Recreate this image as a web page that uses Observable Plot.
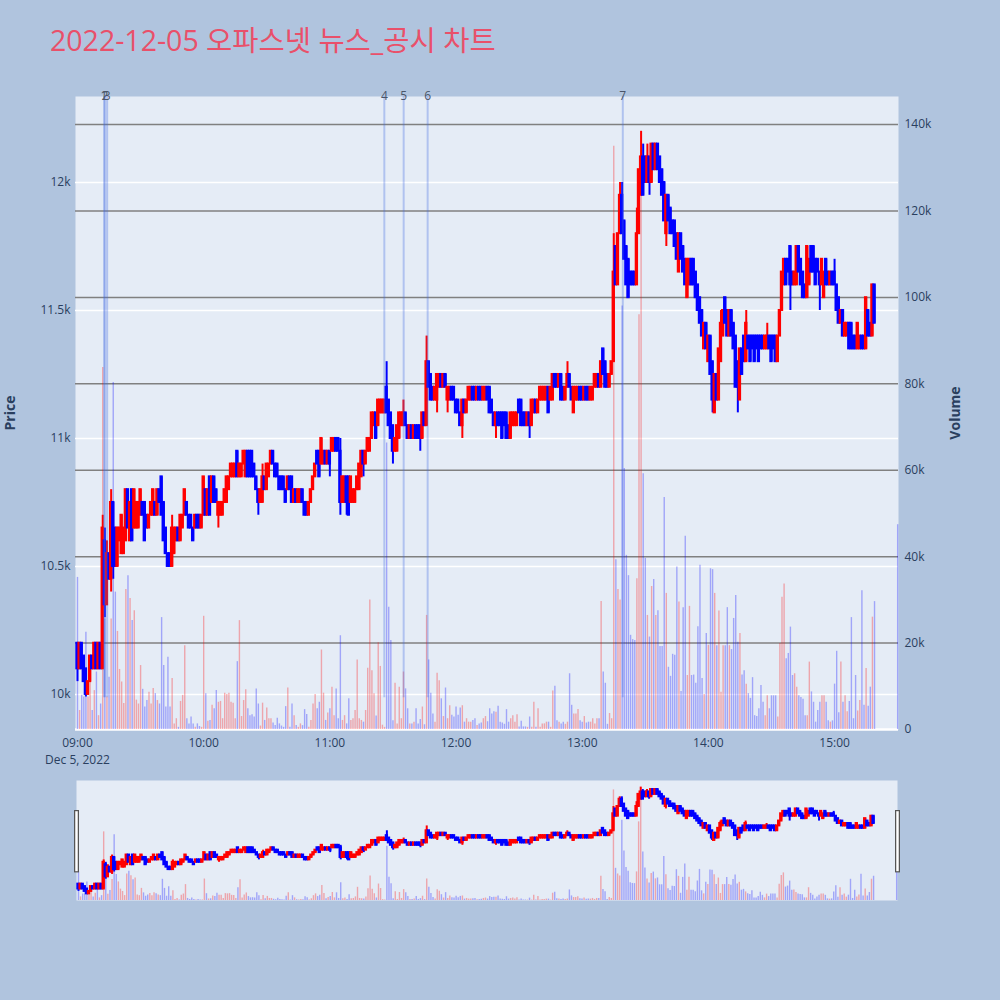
<!DOCTYPE html>
<html>
<head>
<meta charset="utf-8">
<script src="https://cdn.jsdelivr.net/npm/d3@7"></script>
<script src="https://cdn.jsdelivr.net/npm/@observablehq/plot@0.6"></script>
<style>
  html, body { margin: 0; padding: 0; background: #B0C4DE; }
  #wrap { position: relative; width: 1000px; height: 1000px; background: #B0C4DE; overflow: hidden; }
  #title { position: absolute; left: 0; top: 0; }
  #main { position: absolute; left: 0; top: 0; }
  #mini { position: absolute; left: 0; top: 780px; }
  svg { overflow: visible; }
</style>
</head>
<body>
<div id="wrap">
  <svg id="title" width="1000" height="70">
    <text x="50" y="51" font-family="'Open Sans','Noto Sans CJK KR',sans-serif" font-size="28.5" fill="#E9506A">2022-12-05 오파스넷 뉴스_공시 차트</text>
  </svg>
  <div id="main"></div>
  <div id="mini"></div>
</div>
<script>
// ---------- DATA (minute candles from 09:00, index = minutes after 09:00) ----------
const opens = [
10200,10100,10200,10150,10100,10000,10050,10150,10100,10200,
10100,10200,10100,10600,10350,10550,10450,10750,10650,10500,
10600,10550,10550,10600,10800,10600,10800,10650,10650,10650,
10700,10750,10750,10700,10650,10700,10700,10750,10700,10800,
10850,10750,10650,10550,10550,10500,10550,10600,10650,10600,
10650,10700,10750,10700,10700,10650,10650,10700,10700,10650,
10700,10800,10700,10850,10750,10850,10800,10700,10700,10700,
10750,10750,10800,10850,10850,10850,10950,10850,10850,10900,
10850,10950,10950,10950,10900,10850,10800,10750,10750,10850,
10800,10850,10900,10950,10900,10900,10850,10850,10850,10800,
10800,10850,10850,10750,10800,10750,10750,10800,10750,10750,
10700,10750,10800,10850,10950,10950,10900,10900,10950,10900,
10950,10950,10950,11000,11000,10950,10750,10750,10850,10850,
10750,10750,10750,10800,10800,10850,10950,10900,10950,10950,
11000,11050,11100,11050,11100,11100,11100,11200,11150,11100,
11050,10950,10950,11000,11050,11050,11100,11050,11000,11050,
11000,11050,11050,11050,11000,11100,11050,11300,11250,11200,
11150,11150,11200,11250,11200,11250,11150,11150,11200,11200,
11150,11150,11100,11050,11150,11100,11150,11150,11200,11200,
11150,11200,11200,11150,11150,11200,11200,11150,11100,11050,
11100,11100,11100,11100,11100,11050,11000,11050,11050,11050,
11150,11150,11100,11100,11050,11100,11050,11100,11150,11100,
11150,11150,11150,11150,11200,11150,11150,11250,11250,11200,
11250,11200,11150,11200,11250,11200,11100,11150,11150,11200,
11200,11150,11200,11200,11150,11150,11200,11200,11250,11200,
11350,11300,11250,11200,11250,11300,11750,11600,11800,11950,
11850,11750,11700,11650,11650,11650,11600,11800,11950,12100,
12100,12000,12100,12000,12150,12050,12150,12100,12050,12000,
11800,11950,11900,11850,11850,11800,11650,11800,11750,11700,
11550,11600,11700,11700,11650,11600,11550,11500,11350,11450,
11300,11400,11300,11100,11250,11150,11300,11400,11550,11500,
11400,11500,11450,11400,11300,11150,11350,11400,11300,11400,
11400,11400,11400,11400,11400,11400,11400,11350,11350,11400,
11400,11400,11400,11300,11400,11500,11600,11700,11700,11750,
11650,11600,11600,11750,11700,11650,11600,11550,11600,11750,
11750,11700,11700,11650,11600,11550,11700,11650,11600,11650,
11650,11600,11550,11450,11500,11400,11400,11450,11450,11400,
11400,11350,11350,11400,11400,11350,11500,11450,11400,11600
];
const closes = [
10100,10200,10100,10050,10000,10050,10150,10100,10200,10100,
10200,10100,10650,10350,10550,10450,10750,10500,10500,10650,
10650,10700,10650,10800,10650,10750,10600,10800,10750,10750,
10800,10700,10600,10650,10700,10750,10800,10700,10800,10750,
10700,10600,10550,10500,10500,10650,10650,10650,10600,10700,
10700,10800,10700,10650,10650,10600,10700,10650,10650,10700,
10850,10700,10800,10700,10850,10750,10750,10750,10750,10750,
10800,10850,10850,10900,10900,10900,10850,10900,10900,10950,
10950,10850,10850,10850,10850,10800,10750,10800,10850,10800,
10900,10900,10950,10900,10850,10850,10800,10800,10800,10750,
10850,10800,10750,10800,10750,10800,10800,10750,10700,10700,
10750,10800,10850,10900,10900,10850,11000,10950,10900,10950,
10900,11000,11000,10950,10950,10750,10850,10850,10750,10700,
10850,10800,10800,10850,10900,10950,10900,10950,11000,11000,
11100,11100,11000,11150,11150,11150,11150,11100,11050,11000,
10950,11000,11050,11100,11100,11100,11050,11000,11050,11000,
11050,11000,11000,11000,11100,11050,11300,11200,11150,11150,
11200,11250,11250,11200,11250,11200,11200,11200,11150,11150,
11100,11100,11050,11150,11100,11150,11200,11200,11150,11150,
11200,11150,11150,11200,11200,11150,11100,11100,11050,11100,
11050,11050,11000,11050,11000,11000,11100,11100,11100,11100,
11100,11050,11050,11050,11100,11050,11150,11150,11100,11150,
11200,11200,11200,11200,11100,11200,11250,11200,11200,11250,
11150,11150,11200,11250,11200,11150,11200,11200,11200,11150,
11150,11200,11150,11150,11200,11200,11250,11250,11200,11300,
11250,11200,11200,11250,11300,11650,11600,11800,11950,11800,
11700,11600,11550,11600,11600,11600,11800,12050,12100,11950,
12000,12100,12000,12150,12050,12150,12050,12000,11950,11850,
11950,11850,11800,11800,11750,11700,11800,11700,11650,11600,
11700,11700,11600,11600,11550,11500,11450,11400,11450,11350,
11400,11250,11150,11250,11150,11350,11450,11500,11450,11400,
11500,11400,11350,11200,11200,11350,11250,11300,11450,11350,
11300,11350,11300,11350,11300,11350,11350,11400,11400,11350,
11300,11350,11300,11400,11500,11650,11700,11600,11650,11600,
11600,11650,11750,11650,11600,11550,11550,11750,11700,11650,
11650,11600,11650,11600,11700,11650,11600,11600,11650,11600,
11600,11500,11450,11500,11400,11450,11450,11350,11350,11350,
11350,11450,11400,11350,11350,11550,11400,11400,11600,11450
];
// wick extremes beyond the candle body: [minute, price]
const highWicks = [[12,10700],[13,10650],[14,10600],[16,10800],[45,10700],[88,10900],[125,11000],[147,11300],[155,11150],[166,11400],[233,11300],[255,11800],[258,12000],[259,12000],[266,11900],[268,12200],[269,12150],[271,12150],[306,11500],[318,11500],[328,11450],[360,11700]];
const lowWicks = [[0,10050],[4,9990],[13,10300],[16,10400],[17,10450],[67,10650],[86,10700],[120,10850],[125,10700],[128,10700],[136,10850],[150,10900],[163,10950],[171,11100],[176,11100],[183,11000],[199,11000],[215,11000],[272,11950],[280,11750],[302,11100],[314,11100],[339,11500],[353,11500]];
// volume, thousands of shares
const volumesK = [
35.2,4.4,7.9,7.5,22.5,7.5,16.7,4.4,9,13.3,
3.2,5.9,83.8,25.6,7.5,12.1,25.6,80.3,31.8,22.7,
13.9,11,6,32.4,35.6,30.3,25.2,27.5,6.8,5.9,
14.8,9.3,5.2,6.7,8.6,5.9,9.5,8.3,6.7,5.9,
25.9,14.8,5.2,16.7,5.2,11.8,1.3,2.5,0.5,6.5,
7.9,19.4,2.5,1.3,2.9,1.3,0.5,1.3,0.7,0.5,
26.2,8.3,1.9,2.1,5.6,4.8,9,6.3,6.5,2.5,
8.4,8.1,8.4,6.3,6.1,2.5,15.7,25.2,3,6.7,
9.2,4.8,3.2,3.4,2.9,9.4,5.9,0.8,6.1,2.1,
5,2.5,2.5,1.5,0.9,2.6,1.3,0.8,0.5,5.3,
9.6,0.5,5.9,3.2,0.9,0.5,1.3,0.9,4.6,3.5,
0.5,2.1,5.9,8.1,4.8,6.3,18.4,8.4,2.1,3.8,
4.8,9.8,3.2,9.4,2.5,21.7,2.1,3.2,1.3,7.1,
2.1,2.5,4.4,16.1,2.5,2.1,1.7,4.4,14.2,30,
13.6,8.3,3.1,20.1,14.6,1,0.5,66.3,28.3,20.6,
2,10.7,1.3,9.8,2.5,13.3,9.4,4.8,1.3,1.3,
1.7,4.8,1.3,2.3,5.2,1.1,26.4,16.1,8.4,3.6,
1.7,13,11.3,7.1,3,9.6,2.5,5.5,3.3,2.9,
5.2,3.3,5,5.5,1.7,2.5,1.7,1.7,2.1,2.5,
0.9,1.3,1.5,2.5,3,1.8,4.8,3.6,4.1,4,
5.4,1.7,1.5,1.2,4.6,1.7,2.5,3.2,1.7,3.4,
0.6,1.9,0.6,0.6,0.5,2.9,0.5,6.3,0.5,4.8,
0.5,1.3,1.3,1.7,1.7,0.5,8.9,10,2,1.7,
1.3,1.7,1.2,1.7,12.9,5.6,3.6,3.6,4.6,2,
1.7,3,1.5,1.7,1.7,2.5,1.3,2.5,2.5,29.6,
13.3,10.7,1.2,3.7,2.5,135,39.3,32.4,30,98,
60.4,40.3,35.6,21.8,20.8,20.6,34.9,96,138,59.2,
39.6,26.4,21.4,33.1,34.7,26.4,27.5,19.2,19.2,53.7,
31.5,14.4,12.3,17.4,17.2,37.6,29.5,8.8,28.2,44.7,
12.5,28.5,12.5,12.6,10.7,23.8,38,11.8,8.1,22.2,
19.5,37.2,37,31.5,19.4,27.4,8.6,19.4,19.4,28.2,
19.4,18.5,25.7,31,20.2,22.2,12.6,13.6,10.5,8.3,
7.2,12,3.2,3,4.8,10.2,6.3,3.2,7.8,4.8,
7.8,7.8,7.8,2.9,19.9,30.6,33.7,16.4,17.6,23.7,
12.5,12.9,9.8,7.8,7.4,7,3.2,3.2,15.6,8.7,
6.3,1.7,4.4,6.3,7.8,7.8,6.3,2,1.7,2,
10.5,18.1,3.9,15.6,6.3,7.8,4.1,6.5,25.9,2.5,
12.5,4.3,6.7,32.1,5.6,14.1,5.4,9.8,26,29.6
];
// closing auction at 15:30
const closingMinute = 390;
const closingPrice = 11500;
const closingVolumeK = 47.4;

// news / disclosure markers (minutes after 09:00)
const newsLabels = ["1","2","3","4","5","6","7"];
const newsMinutes = [12.6, 13.1, 14.1, 145.9, 155.1, 166.5, 259.3];

// axis ticks
const priceTicks = [10000, 10500, 11000, 11500, 12000];
const priceTickLabels = ["10k", "10.5k", "11k", "11.5k", "12k"];
const volumeTicks = [0, 20000, 40000, 60000, 80000, 100000, 120000, 140000];
const volumeTickLabels = ["0", "20k", "40k", "60k", "80k", "100k", "120k", "140k"];
const timeTicks = [0, 60, 120, 180, 240, 300, 360];
const timeTickLabels = ["09:00", "10:00", "11:00", "12:00", "13:00", "14:00", "15:00"];
const dateLabel = "Dec 5, 2022";

// ---------- BUILD ----------
const yMin = 9863, yMax = 12336, volMax = 146500;
const vToY = v => yMin + v / volMax * (yMax - yMin);
const xDomain = [-0.95, 390.4];

const candles = opens.map((o, i) => ({
  m: i, o, c: closes[i],
  h: Math.max(o, closes[i]), l: Math.min(o, closes[i]),
  v: volumesK[i] * 1000
}));
highWicks.forEach(([i, h]) => { candles[i].h = Math.max(candles[i].h, h); });
lowWicks.forEach(([i, l]) => { candles[i].l = Math.min(candles[i].l, l); });
candles.push({m: closingMinute, o: closingPrice, c: closingPrice, h: closingPrice, l: closingPrice, v: closingVolumeK * 1000});
candles.forEach(d => { d.col = d.c > d.o ? "#ff0000" : "#0000ff"; });

function seriesMarks() {
  return [
    Plot.ruleX(candles, {x: "m", y1: yMin, y2: d => vToY(d.v), stroke: "col", strokeOpacity: 0.3, strokeWidth: 1.4}),
    Plot.ruleX(candles, {x: "m", y1: "l", y2: "h", stroke: "col", strokeWidth: 2}),
    Plot.rect(candles, {x1: d => d.m - 0.32, x2: d => d.m + 0.32, y1: "o", y2: "c", fill: "col", stroke: "col", strokeWidth: 2})
  ];
}

const fontStyle = {fontFamily: "'Open Sans', 'Noto Sans CJK KR', sans-serif", fontSize: "12px", color: "#2a3f5f", background: "transparent", overflow: "visible"};

const main = Plot.plot({
  width: 1000, height: 770,
  marginLeft: 75, marginRight: 102, marginTop: 96, marginBottom: 41,
  x: {domain: xDomain, type: "linear"},
  y: {domain: [yMin, yMax]},
  style: fontStyle,
  marks: [
    Plot.frame({fill: "#E5ECF6", stroke: null}),
    Plot.ruleY(priceTicks, {stroke: "white", strokeWidth: 1.5}),
    Plot.ruleY([yMin], {stroke: "white", strokeWidth: 2.5}),
    Plot.ruleY(volumeTicks.filter(v => v > 0), {y: v => vToY(v), stroke: "#808080", strokeWidth: 1.5}),
    ...seriesMarks(),
    Plot.ruleX(newsMinutes, {x: d => d, y1: yMin + 0.05 * (yMax - yMin), y2: yMax, stroke: "#4169e1", strokeOpacity: 0.32, strokeWidth: 2}),
    Plot.text(newsLabels, {x: (d, i) => newsMinutes[i], y: yMax, text: d => d, fill: "#4a5568", fontSize: 12}),
    Plot.axisY({ticks: priceTicks, tickFormat: (d, i) => priceTickLabels[i], tickSize: 0, tickPadding: 5, label: null}),
    Plot.axisY({anchor: "right", ticks: volumeTicks.map(vToY), tickFormat: (d, i) => volumeTickLabels[i], tickSize: 0, tickPadding: 6, label: null}),
    Plot.axisX({ticks: timeTicks, tickFormat: (d, i) => timeTickLabels[i], tickSize: 0, tickPadding: 9, label: null}),
    Plot.text([dateLabel], {x: () => 0, frameAnchor: "bottom", dy: 34, text: d => d, fill: "#2a3f5f", fontSize: 12}),
    Plot.text(["Price"], {frameAnchor: "left", dx: -65, rotate: -90, textAnchor: "middle", text: d => d, fontWeight: "bold", fontSize: 14, fill: "#2a3f5f"}),
    Plot.text(["Volume"], {frameAnchor: "right", dx: 57, rotate: -90, textAnchor: "middle", text: d => d, fontWeight: "bold", fontSize: 14, fill: "#2a3f5f"})
  ]
});
document.getElementById("main").appendChild(main);

const mini = Plot.plot({
  width: 1000, height: 120,
  marginLeft: 76, marginRight: 103, marginTop: 0, marginBottom: 0,
  x: {domain: xDomain, type: "linear", axis: null},
  y: {domain: [yMin, yMax], axis: null},
  style: fontStyle,
  marks: [
    Plot.frame({fill: "#E5ECF6", stroke: null}),
    ...seriesMarks(),
    Plot.ruleX(xDomain, {x: d => d, y1: yMin + 0.23 * (yMax - yMin), y2: yMin + 0.75 * (yMax - yMin), stroke: "#555", strokeWidth: 5}),
    Plot.ruleX(xDomain, {x: d => d, y1: yMin + 0.24 * (yMax - yMin), y2: yMin + 0.74 * (yMax - yMin), stroke: "#fff", strokeWidth: 2.5})
  ]
});
document.getElementById("mini").appendChild(mini);
</script>
</body>
</html>
